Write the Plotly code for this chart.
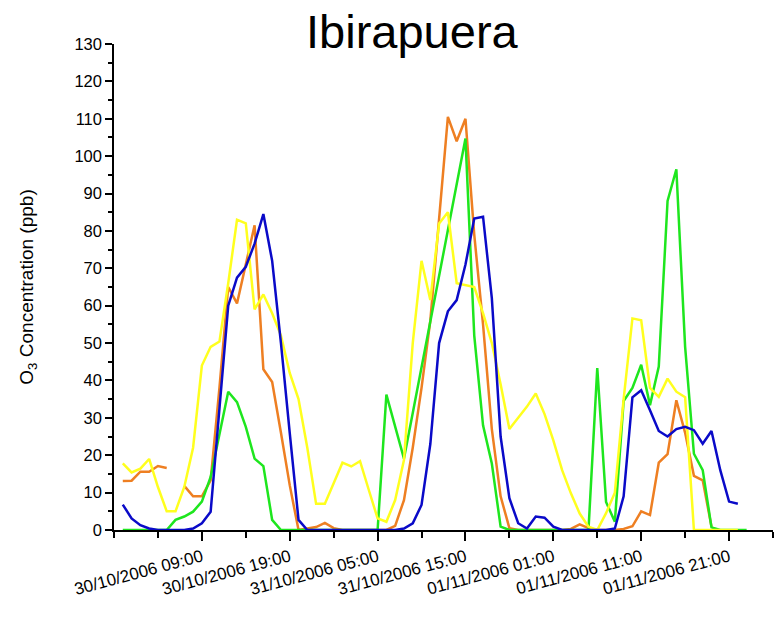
import plotly.graph_objects as go
import pandas as pd

# hourly time stamps starting 30/10/2006 00:00
start_time = "2006-10-30 00:00"
n_hours = 72
hours = pd.date_range(start_time, periods=n_hours, freq="h")

orange = [13.1, 13.2, 15.6, 15.6, 17.1, 16.6, None, 11.8, 9.0, 9.0,
          13.3, 38, 65, 60.6, 71, 81.5, 43, 39.6, 26, 12,
          0, 0.3, 0.8, 1.9, 0.5, 0, 0, 0, 0, 0,
          0, 1.1, 8, 22, 38, 56, 83, 110.5, 104, 110,
          79, 55, 27, 9, 0.5, 0, 0, 0, 0, 0,
          0, 0.3, 1.5, 0.5, 0, 0, 0, 0.3, 1, 5,
          4, 18, 20.3, 34.7, 26, 14.5, 13.3, 0.9]

yellow = [17.8, 15.4, 16.4, 19, 11.5, 5, 5, 11.5, 22, 44,
          49, 50.4, 66, 83, 82, 59, 63, 58, 52, 42,
          35, 22, 7, 7, 12.5, 18, 17, 18.4, 10.7, 3.1,
          2.2, 8, 18.7, 50, 72, 61.5, 82, 85, 66, 65.5,
          65, 58, 50, 39, 27, 30, 33, 36.5, 31, 24,
          16, 9.8, 4.4, 0.9, 0, 4.5, 10, 35, 56.6, 56.1,
          38, 35.6, 40.5, 37, 35.5, 0, 0, 0, 0, 0, 0]

green = [0, 0, 0, 0, 0, 0, 2.7, 3.6, 4.9, 7.6,
         14.2, 26, 37, 34.2, 27.6, 19.1, 17.1, 2.7, 0, 0,
         0, 0, 0, 0, 0, 0, 0, 0, 0, 0,
         36.2, 27.7, 19.1, 31.3, 43.5, 55.7, 68, 80, 92.5, 104.7,
         52, 28, 17.8, 0.9, 0, 0, 0, 0, 0, 0,
         0, 0, 0, 0, 43.3, 7.5, 2.2, 34.5, 38, 44.2,
         33.4, 43.7, 88, 96.5, 49, 20.4, 16, 0.7, 0, 0, 0, 0]

blue = [6.8, 3.1, 1.3, 0.4, 0, 0, 0, 0, 0.4, 1.8,
        4.9, 33, 60, 67.5, 70.4, 76.6, 84.5, 72, 50, 26,
        2.7, 0, 0, 0, 0, 0, 0, 0, 0, 0,
        0, 0, 0.4, 1.8, 6.7, 23, 50, 58.5, 61.5, 71,
        83.3, 83.8, 62, 25, 8.5, 1.8, 0.4, 3.6, 3.3, 0.9,
        0, 0, 0, 0, 0, 0, 0.4, 9, 35.5, 37.4,
        32, 26.5, 25, 27, 27.6, 26.7, 23.1, 26.5, 16, 7.6, 7]

x_tick_vals = ["2006-10-30 09:00", "2006-10-30 19:00",
               "2006-10-31 05:00", "2006-10-31 15:00", "2006-11-01 01:00",
               "2006-11-01 11:00", "2006-11-01 21:00"]
x_tick_text = ["30/10/2006 09:00", "30/10/2006 19:00", "31/10/2006 05:00",
               "31/10/2006 15:00", "01/11/2006 01:00", "01/11/2006 11:00",
               "01/11/2006 21:00"]
x_minor_vals = ["2006-10-29 23:00", "2006-10-30 04:00", "2006-10-30 14:00",
                "2006-10-31 00:00", "2006-10-31 10:00", "2006-10-31 20:00",
                "2006-11-01 06:00", "2006-11-01 16:00", "2006-11-02 02:00"]
x_range = ["2006-10-29 23:00", "2006-11-02 02:00"]

series = [
    ("orange", orange, "#EE7F22"),
    ("green", green, "#1EE61E"),
    ("yellow", yellow, "#FFFF1E"),
    ("blue", blue, "#0A0AC8"),
]

fig = go.Figure()
for name, vals, col in series:
    fig.add_trace(go.Scatter(
        x=hours[:len(vals)], y=vals, mode="lines", name=name,
        line=dict(color=col, width=2.5), connectgaps=False,
        cliponaxis=False, showlegend=False))

font_family = "Liberation Sans, Arial, sans-serif"
fig.update_layout(
    width=778, height=617,
    margin=dict(l=114, r=5, t=44, b=87),
    paper_bgcolor="white", plot_bgcolor="white",
    font=dict(family=font_family, color="black"),
    title=dict(text="Ibirapuera", font=dict(size=47, family=font_family, color="black"),
               xref="paper", x=0.452, xanchor="center",
               yref="container", y=1 - 32 / 617, yanchor="middle"),
    xaxis=dict(
        type="date", range=x_range, showgrid=False, zeroline=False,
        showline=True, linecolor="black", linewidth=1.5,
        ticks="outside", ticklen=9, tickwidth=1.5, tickcolor="black",
        tickmode="array", tickvals=x_tick_vals, ticktext=x_tick_text,
        tickangle=-15, tickfont=dict(size=17),
        minor=dict(tickmode="array", tickvals=x_minor_vals, ticks="outside",
                   ticklen=6, tickwidth=1.5, tickcolor="black", showgrid=False),
        layer="below traces", automargin=False,
    ),
    yaxis=dict(
        range=[0, 130], showgrid=False, zeroline=False,
        showline=True, linecolor="black", linewidth=1.5,
        ticks="outside", ticklen=7, tickwidth=1.5, tickcolor="black",
        dtick=10, tick0=0, tickfont=dict(size=16.5),
        minor=dict(dtick=5, ticks="outside", ticklen=4, tickwidth=1.5,
                   tickcolor="black", showgrid=False),
        title=dict(text="O<sub>3</sub> Concentration (ppb)", font=dict(size=19),
                   standoff=36),
        layer="below traces", automargin=False,
    ),
)

fig.write_html("out.html")
